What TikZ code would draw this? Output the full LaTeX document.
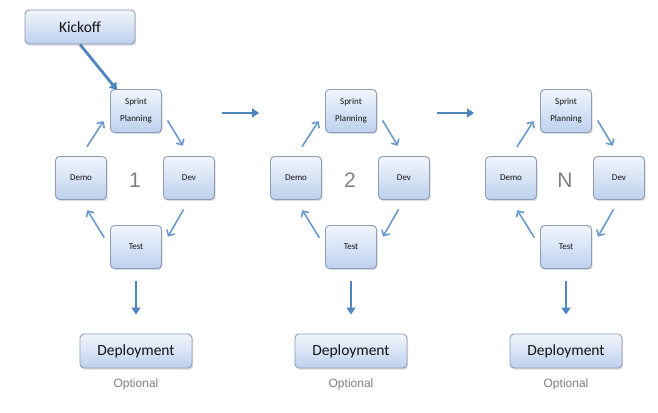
\documentclass[tikz,border=0pt]{standalone}
\usepackage{fontspec}
\setmainfont{Carlito}
\newfontfamily\numfont{Liberation Sans}
\usetikzlibrary{arrows.meta,shadows,calc}
\definecolor{boxtop}{HTML}{F2F6FC}
\definecolor{boxbot}{HTML}{BDD0EE}
\definecolor{boxline}{HTML}{8F9DB3}
\definecolor{arrowblue}{HTML}{4F86BE}
\definecolor{cyclearrow}{HTML}{6A9ACB}
\definecolor{numgray}{HTML}{7F7F7F}
\tikzset{
  boxbase/.style={draw=boxline, line width=0.9pt, rounded corners=4pt,
    top color=boxtop, bottom color=boxbot, text=black!92,
    drop shadow={shadow xshift=1.2pt, shadow yshift=-1.6pt, opacity=0.28}},
  smallbox/.style={boxbase, minimum width=51pt, minimum height=43pt, inner sep=0pt,
    align=center, font=\fontsize{9}{17}\selectfont},
  bigbox/.style={boxbase, minimum height=34pt, inner sep=0pt,
    font=\fontsize{15.5}{18}\selectfont},
  cyc/.style={draw=cyclearrow, line width=1.6pt, -{Straight Barb[length=4.5pt,width=9pt]},
    shorten <=11pt, shorten >=12pt},
  thick arrow/.style={draw=arrowblue, line width=2.8pt, -{Triangle[length=7pt,width=9pt]}},
  numtext/.style={font=\numfont\fontsize{21}{24}\selectfont, text=numgray},
  opttext/.style={font=\numfont\fontsize{12}{14}\selectfont, text=numgray}
}
\begin{document}
\begin{tikzpicture}[x=1pt,y=-1pt]
\useasboundingbox (0,0) rectangle (658,412);
\node[bigbox, minimum width=110pt] (kick) at (80,27) {Kickoff};
\foreach \i/\cx/\lab in {1/136/1, 2/351/2, 3/566/N}{
  \node[smallbox] (sp\i) at (\cx,111) {Sprint\\Planning};
  \node[smallbox] (demo\i) at (\cx-55,178) {Demo};
  \node[smallbox] (dev\i) at (\cx+53,178) {Dev};
  \node[smallbox] (test\i) at (\cx,247) {Test};
  \node[numtext] (num\i) at (\cx-1,180) {\lab};
  \node[bigbox, minimum width=112pt] (dep\i) at (\cx,351) {Deployment};
  \node[opttext] (opt\i) at (\cx,384) {Optional};
  \draw[cyc] (demo\i.north) -- (sp\i.west);
  \draw[cyc] (sp\i.east) -- (dev\i.north);
  \draw[cyc] (dev\i.south) -- (test\i.east);
  \draw[cyc] (test\i.west) -- (demo\i.south);
  \draw[thick arrow, shorten <=12pt, shorten >=19pt] (test\i.south) -- (dep\i.north);
}
\draw[thick arrow] (kick.south) -- ([xshift=7pt,yshift=-1pt]sp1.north west);
\draw[thick arrow, shorten <=60pt, shorten >=66pt] ([yshift=-2pt]sp1.east) -- ([yshift=-2pt]sp2.west);
\draw[thick arrow, shorten <=60pt, shorten >=66pt] ([yshift=-2pt]sp2.east) -- ([yshift=-2pt]sp3.west);
\end{tikzpicture}
\end{document}
